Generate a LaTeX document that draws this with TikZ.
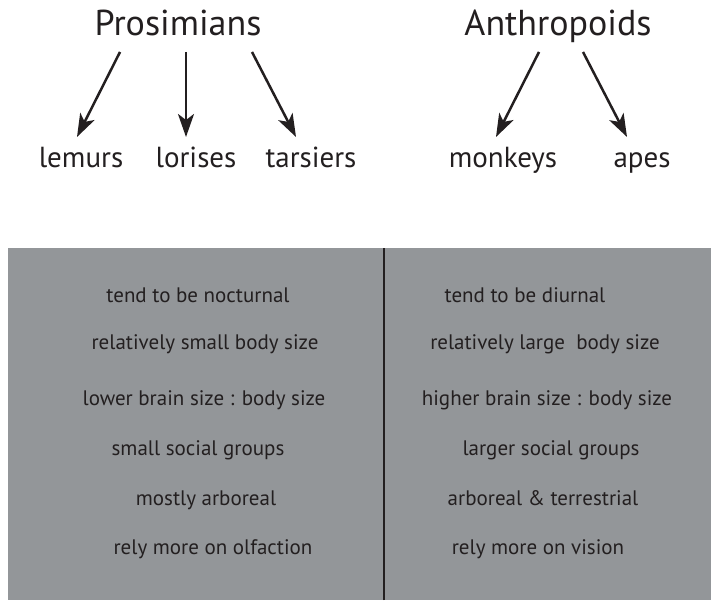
\documentclass[tikz,border=0pt]{standalone}
\usepackage{fontspec}
\setmainfont{PT Sans}
\usetikzlibrary{arrows.meta,calc}
\definecolor{panel}{HTML}{939699}
\definecolor{ink}{HTML}{231F20}
\tikzset{
  group/.style={font=\fontsize{36}{40}\selectfont, text=ink, inner sep=0pt, anchor=base},
  member/.style={font=\fontsize{29}{32}\selectfont, text=ink, inner sep=0pt, anchor=base},
  trait/.style={font=\fontsize{21}{24}\selectfont, text=ink, inner sep=0pt, anchor=base},
  arr/.style={draw=ink, line width=2.5pt, -{Stealth[length=23pt,width=16pt,inset=6pt]}},
}
\begin{document}
\begin{tikzpicture}[x=1pt,y=1pt]
\useasboundingbox (0,0) rectangle (711,600);

% group names and members
\node[group] (pro) at (178,564) {Prosimians};
\node[group] (ant) at (558,564) {Anthropoids};
\node[member] (lem) at (81,432) {lemurs};
\node[member] (lor) at (196,432) {lorises};
\node[member] (tar) at (311,432) {tarsiers};
\node[member] (mon) at (503,432) {monkeys};
\node[member] (apes) at (642,432) {apes};

\draw[arr] ([shift={(-58,-16)}]pro.base) -- ([shift={(-4,31)}]lem.base);
\draw[arr] ([shift={(8,-16)}]pro.base) -- ([shift={(-10,31)}]lor.base);
\draw[arr] ([shift={(74,-16)}]pro.base) -- ([shift={(-15,31)}]tar.base);
\draw[arr] ([shift={(-19,-16)}]ant.base) -- ([shift={(-7,31)}]mon.base);
\draw[arr] ([shift={(25,-16)}]ant.base) -- ([shift={(-15,31)}]apes.base);

% comparison panel
\fill[panel] (8,0) rectangle (711,352);
\draw[ink, line width=2.4pt] (384,0) -- (384,352);

\node[trait] (l1) at (198,297) {tend to be nocturnal};
\node[trait] (l2) at (205,251) {relatively small body size};
\node[trait] (l3) at (204,195) {lower brain size : body size};
\node[trait] (l4) at (198,145) {small social groups};
\node[trait] (l5) at (206,95) {mostly arboreal};
\node[trait] (l6) at (213,46) {rely more on olfaction};

\node[trait] (r1) at (525,297) {tend to be diurnal};
\node[trait] (r2) at (545,251) {relatively large\ \ body size};
\node[trait] (r3) at (547,195) {higher brain size : body size};
\node[trait] (r4) at (551,145) {larger social groups};
\node[trait] (r5) at (543,95) {arboreal \& terrestrial};
\node[trait] (r6) at (538,46) {rely more on vision};
\end{tikzpicture}
\end{document}
